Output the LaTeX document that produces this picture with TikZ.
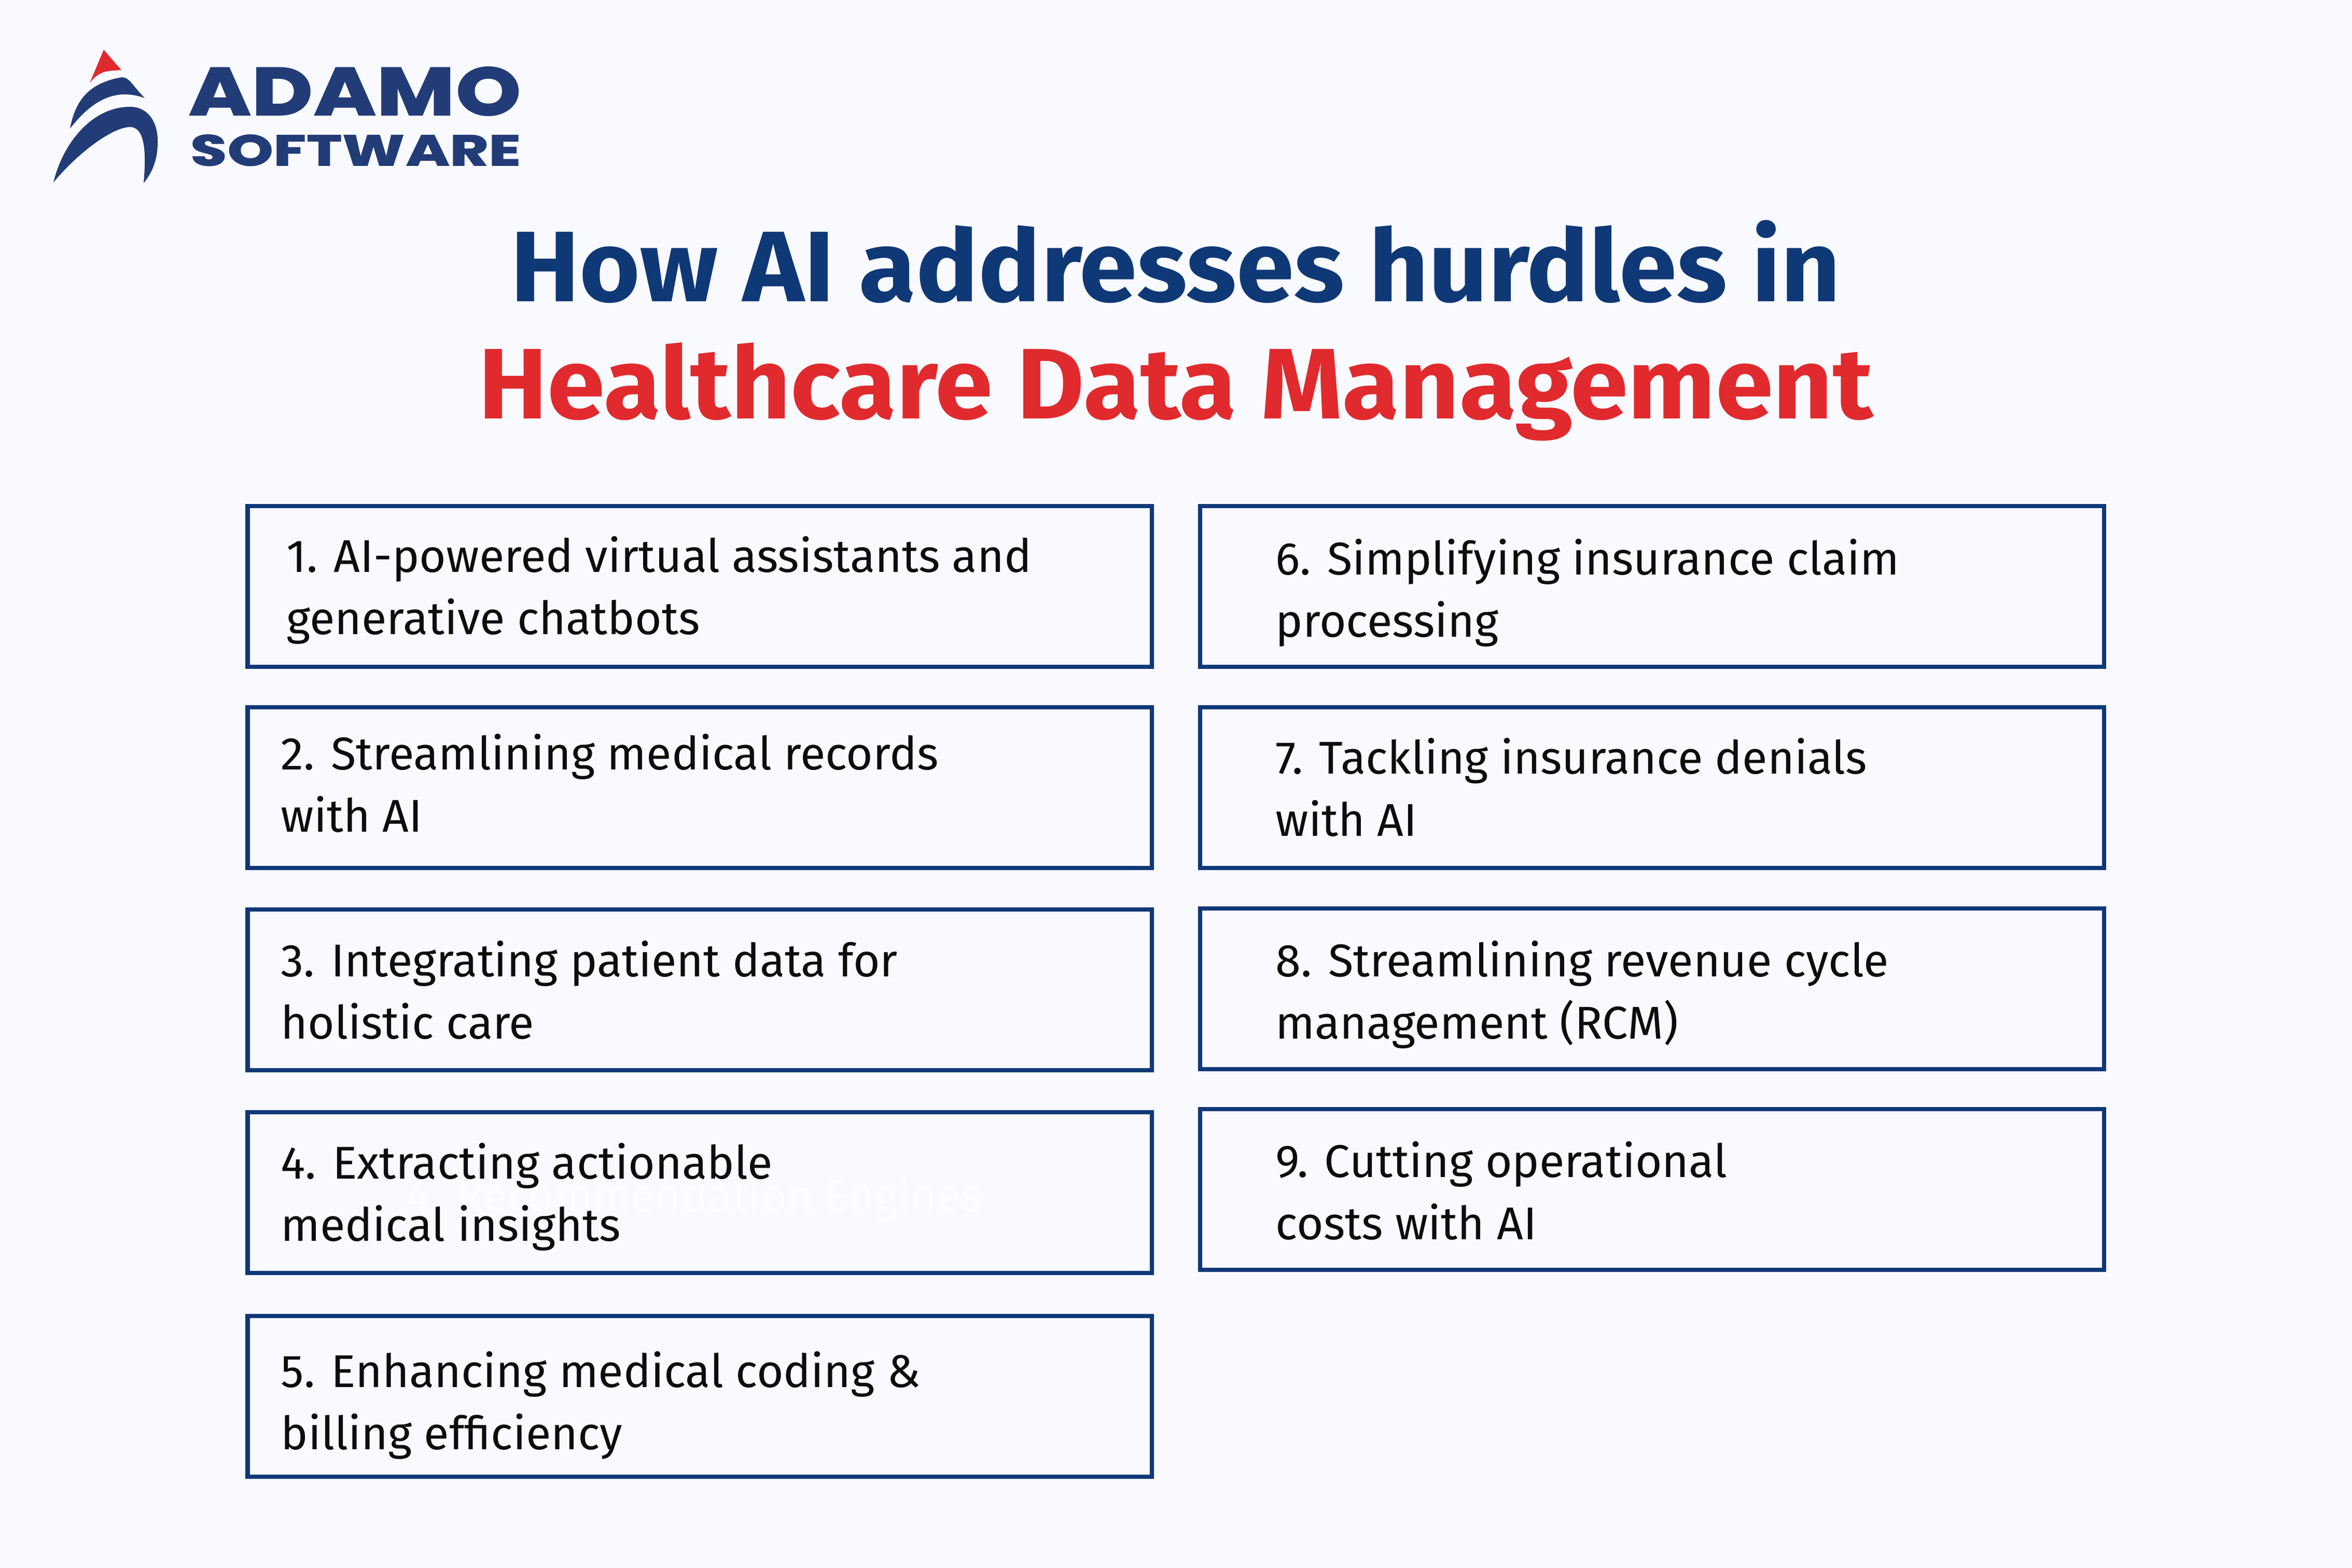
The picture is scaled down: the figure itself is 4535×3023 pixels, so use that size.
\documentclass[tikz,border=0pt]{standalone}
\usepackage{fontspec}
\usepackage{graphicx}
\setmainfont{Fira Sans}
\newfontfamily\titlefont[FakeStretch=1.036]{Fira Sans}
\newfontfamily\logofont{Poppins ExtraBold}
\definecolor{pagebg}{HTML}{F9FAFF}
\definecolor{navy}{HTML}{0F3877}
\definecolor{logoblue}{HTML}{223C78}
\definecolor{hurdlered}{HTML}{E12A2E}
\definecolor{bodyink}{HTML}{0D0D0D}
\definecolor{ghostwhite}{HTML}{FDFDFF}
\begin{document}
\begin{tikzpicture}[x=0.01cm, y=-0.01cm,
item/.style={rectangle, draw=navy, line width=0.08cm, minimum width=17.42cm, minimum height=3.09cm, inner sep=0pt, outer sep=0pt},
itemtext/.style={anchor=north west, align=left, inner sep=0pt, text=bodyink, font=\fontsize{25.2}{34.1}\selectfont},
headline/.style={anchor=base, inner sep=0pt, font=\titlefont\fontsize{55}{60}\selectfont\bfseries}]
\useasboundingbox (0,0) rectangle (4535,3023);
\fill[pagebg] (0,0) rectangle (4535,3023);
% logo
\fill[hurdlered] (200,96) -- (234,135) .. controls (208,137) and (192,135) .. (173,160) -- cycle;
\fill[logoblue] (235,149) .. controls (250,149) and (255,165) .. (279,189) .. controls (225,170) and (180,190) .. (135,248) .. controls (145,195) and (170,160) .. cycle;
\fill[logoblue] (251,206) .. controls (285,206) and (305,235) .. (304,275) .. controls (304,310) and (292,335) .. (277,353) .. controls (280,315) and (285,245) .. (251,245) .. controls (215,245) and (145,300) .. (103,352) .. controls (120,280) and (175,206) .. cycle;
\node[inner sep=0pt, anchor=base west, text=logoblue] (adamo) at (363,223) {\resizebox{6.41cm}{0.95cm}{\logofont ADAMO}};
\node[inner sep=0pt, anchor=base west, text=logoblue] (software) at (367,320) {\resizebox{6.37cm}{0.61cm}{\logofont SOFTWARE}};
% title
\node[headline, text=navy] (title1) at (2267,581) {How AI addresses hurdles in};
\node[headline, text=hurdlered] (title2) at (2267,807) {Healthcare Data Management};
% left column
\node[item] (box1) at (1349,1131) {};
\node[item] (box2) at (1349,1519) {};
\node[item] (box3) at (1349,1909) {};
\node[item] (box4) at (1349,2300) {};
\node[item] (box5) at (1349,2693) {};
% right column
\node[item] (box6) at (3185,1131) {};
\node[item] (box7) at (3185,1519) {};
\node[item] (box8) at (3185,1907) {};
\node[item] (box9) at (3185,2294) {};
% labels
\node[itemtext, text=ghostwhite, font=\fontsize{24.5}{34.1}\selectfont] (ghost) at (783,2269) {4. Recommendation Engines};
\node[itemtext] (text1) at (552,1034) {1. AI-powered virtual assistants and\\generative chatbots};
\node[itemtext] (text2) at (541,1415) {2. Streamlining medical records\\with AI};
\node[itemtext] (text3) at (541,1814) {3. Integrating patient data for\\holistic care};
\node[itemtext] (text4) at (541,2204) {4. Extracting actionable\\medical insights};
\node[itemtext] (text5) at (541,2606) {5. Enhancing medical coding \&\\billing efficiency};
\node[itemtext] (text6) at (2459,1039) {6. Simplifying insurance claim\\processing};
\node[itemtext] (text7) at (2459,1423) {7. Tackling insurance denials\\with AI};
\node[itemtext] (text8) at (2459,1814) {8. Streamlining revenue cycle\\management (RCM)};
\node[itemtext] (text9) at (2459,2201) {9. Cutting operational\\costs with AI};
\end{tikzpicture}
\end{document}
